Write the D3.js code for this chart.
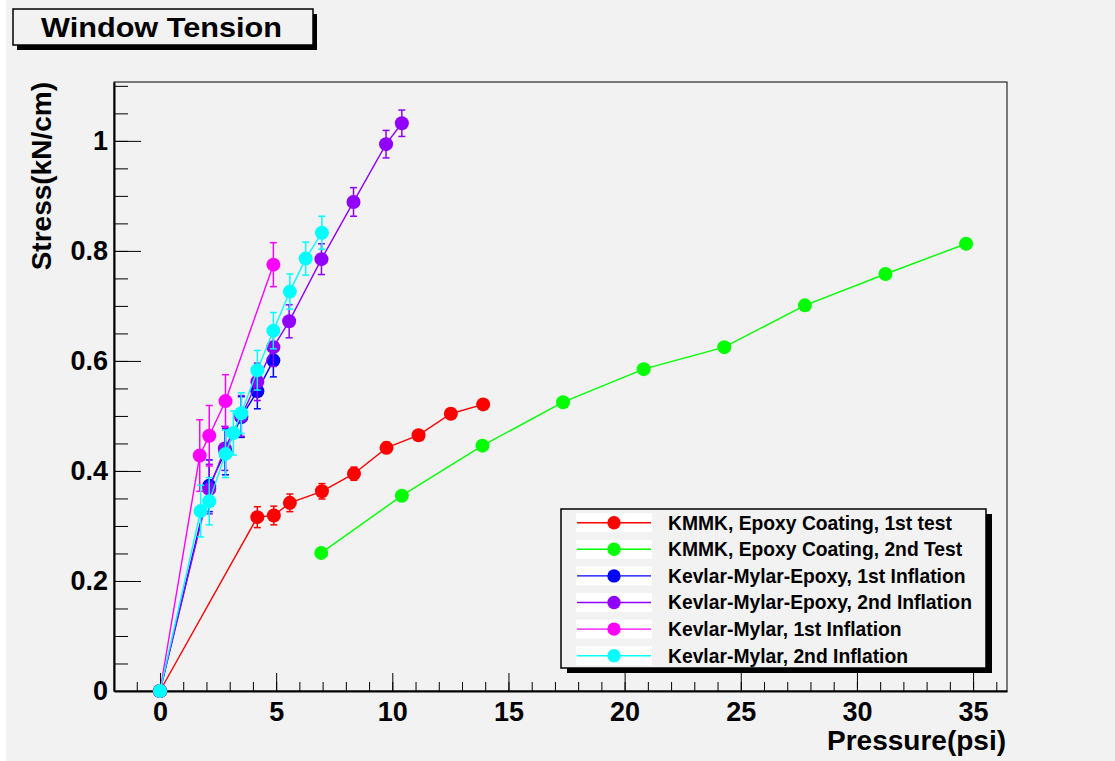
<!DOCTYPE html>
<html>
<head>
<meta charset="utf-8">
<script src="https://cdn.jsdelivr.net/npm/d3@7"></script>
<style>
  body { margin: 0; background: #ffffff; }
  text { font-family: "Liberation Sans", Arial, Helvetica, sans-serif; font-weight: bold; }
</style>
</head>
<body>
<svg id="chart"></svg>
<script>
// Data
const seriesNames = [
  "KMMK, Epoxy Coating, 1st test",
  "KMMK, Epoxy Coating, 2nd Test",
  "Kevlar-Mylar-Epoxy, 1st Inflation",
  "Kevlar-Mylar-Epoxy, 2nd Inflation",
  "Kevlar-Mylar, 1st Inflation",
  "Kevlar-Mylar, 2nd Inflation"
];
const seriesColors = ["#ff0000", "#00ff00", "#0000ff", "#9100ff", "#ff00ff", "#00ffff"];

const kmmk1X = [0, 4.19, 4.90, 5.59, 6.97, 8.35, 9.75, 11.13, 12.52, 13.91];
const kmmk1Y = [0, 0.316, 0.319, 0.342, 0.363, 0.395, 0.442, 0.465, 0.504, 0.521];
const kmmk1Err = [0, 0.019, 0.017, 0.016, 0.014, 0.012, 0.01, 0.009, 0.008, 0.008];

const kmmk2X = [6.94, 10.41, 13.88, 17.35, 20.82, 24.29, 27.76, 31.23, 34.70];
const kmmk2Y = [0.251, 0.355, 0.446, 0.525, 0.585, 0.625, 0.701, 0.758, 0.813];
const kmmk2Err = [0, 0, 0, 0, 0, 0, 0, 0, 0];

const kmeX1 = [0, 2.12, 2.82, 3.50, 4.19, 4.88];
const kmeY1 = [0, 0.373, 0.435, 0.498, 0.545, 0.601];
const kmeErr1 = [0, 0.047, 0.042, 0.037, 0.032, 0.03];

const kmeX2 = [0, 2.12, 2.79, 3.50, 4.19, 4.88, 5.56, 6.95, 8.33, 9.73, 10.41];
const kmeY2 = [0, 0.367, 0.441, 0.50, 0.562, 0.625, 0.672, 0.785, 0.889, 0.994, 1.032];
const kmeErr2 = [0, 0.045, 0.04, 0.037, 0.034, 0.035, 0.03, 0.028, 0.026, 0.025, 0.024];

const kmX1 = [0, 1.71, 2.12, 2.82, 4.88];
const kmY1 = [0, 0.428, 0.464, 0.527, 0.775];
const kmErr1 = [0, 0.065, 0.055, 0.048, 0.04];

const kmX2 = [0, 1.75, 2.12, 2.82, 3.16, 3.50, 4.19, 4.88, 5.59, 6.27, 6.97];
const kmY2 = [0, 0.327, 0.345, 0.431, 0.469, 0.505, 0.583, 0.655, 0.726, 0.786, 0.833];
const kmErr2 = [0, 0.047, 0.043, 0.043, 0.04, 0.037, 0.036, 0.033, 0.032, 0.03, 0.03];

const xTicks = [0, 5, 10, 15, 20, 25, 30, 35];
const yTicks = [0, 0.2, 0.4, 0.6, 0.8, 1];

// Dimensions
const svg_width = 1115;
const svg_height = 761;
const frame = { left: 114, right: 1007, top: 82, bottom: 691 };

const svg = d3.select("#chart")
  .attr("width", svg_width)
  .attr("height", svg_height);

// Background (ROOT grey canvas)
svg.append("rect").attr("width", svg_width).attr("height", svg_height).attr("fill", "#ffffff");
svg.append("rect").attr("x", 6).attr("width", svg_width - 6).attr("height", svg_height).attr("fill", "#f2f2f2");

// Scales
const xScale = d3.scaleLinear().domain([-1.98, 36.46]).range([frame.left, frame.right]);
const yScale = d3.scaleLinear().domain([0, 1.107]).range([frame.bottom, frame.top]);

// Frame
svg.append("rect")
  .attr("x", frame.left).attr("y", frame.top)
  .attr("width", frame.right - frame.left).attr("height", frame.bottom - frame.top)
  .attr("fill", "none").attr("stroke", "#000").attr("stroke-width", 1);

// x axis: minor ticks, then major ticks with labels
const xMinor = d3.range(-1, 37, 1);
svg.append("g")
  .attr("transform", `translate(0, ${frame.bottom})`)
  .call(d3.axisBottom(xScale).tickValues(xMinor).tickSizeInner(-9).tickSizeOuter(0).tickFormat(""))
  .call(g => g.select(".domain").remove());
svg.append("g")
  .attr("transform", `translate(0, ${frame.bottom})`)
  .call(d3.axisBottom(xScale).tickValues(xTicks).tickSizeInner(-18).tickSizeOuter(0).tickPadding(11).tickFormat(d3.format("d")))
  .call(g => g.select(".domain").attr("stroke-width", 2))
  .call(g => g.selectAll("text").attr("font-size", 27).attr("fill", "#000"));

// y axis
const yMinor = d3.range(0, 1.11, 0.05);
svg.append("g")
  .attr("transform", `translate(${frame.left}, 0)`)
  .call(d3.axisLeft(yScale).tickValues(yMinor).tickSizeInner(-14).tickSizeOuter(0).tickFormat(""))
  .call(g => g.select(".domain").remove());
svg.append("g")
  .attr("transform", `translate(${frame.left}, 0)`)
  .call(d3.axisLeft(yScale).tickValues(yTicks).tickSizeInner(-27).tickSizeOuter(0).tickPadding(6).tickFormat(d => d3.format("~g")(d)))
  .call(g => g.select(".domain").attr("stroke-width", 2))
  .call(g => g.selectAll("text").attr("font-size", 27).attr("fill", "#000"));

// Axis titles
svg.append("text")
  .attr("x", 1006).attr("y", 750)
  .attr("text-anchor", "end").attr("font-size", 28)
  .text("Pressure(psi)");
svg.append("text")
  .attr("transform", `translate(51, ${frame.top}) rotate(-90)`)
  .attr("text-anchor", "end").attr("font-size", 28)
  .text("Stress(kN/cm)");

// Series
const series = [
  { x: kmmk1X, y: kmmk1Y, e: kmmk1Err },
  { x: kmmk2X, y: kmmk2Y, e: kmmk2Err },
  { x: kmeX1, y: kmeY1, e: kmeErr1 },
  { x: kmeX2, y: kmeY2, e: kmeErr2 },
  { x: kmX1, y: kmY1, e: kmErr1 },
  { x: kmX2, y: kmY2, e: kmErr2 }
].map((s, i) => ({
  name: seriesNames[i],
  color: seriesColors[i],
  points: s.x.map((xv, j) => ({ x: xv, y: s.y[j], e: s.e[j] }))
}));

const line = d3.line().x(d => xScale(d.x)).y(d => yScale(d.y));
const plot = svg.append("g");

series.forEach(s => {
  const g = plot.append("g");
  g.append("path")
    .datum(s.points)
    .attr("d", line)
    .attr("fill", "none")
    .attr("stroke", s.color)
    .attr("stroke-width", 1.4);

  const errs = s.points.filter(d => d.e > 0);
  // vertical error bars
  g.selectAll(".ebar").data(errs).enter().append("line")
    .attr("x1", d => xScale(d.x)).attr("x2", d => xScale(d.x))
    .attr("y1", d => yScale(d.y - d.e)).attr("y2", d => yScale(d.y + d.e))
    .attr("stroke", s.color).attr("stroke-width", 1.5);
  // caps
  [-1, 1].forEach(sign => {
    g.selectAll(".cap" + sign).data(errs).enter().append("line")
      .attr("x1", d => xScale(d.x) - 3.5).attr("x2", d => xScale(d.x) + 3.5)
      .attr("y1", d => yScale(d.y + sign * d.e)).attr("y2", d => yScale(d.y + sign * d.e))
      .attr("stroke", s.color).attr("stroke-width", 1.5);
  });

  g.selectAll("circle").data(s.points).enter().append("circle")
    .attr("cx", d => xScale(d.x))
    .attr("cy", d => yScale(d.y))
    .attr("r", 7)
    .attr("fill", s.color);
});

// Legend
const legend = { x: 561, y: 509, w: 425, h: 159 };
svg.append("rect")
  .attr("x", legend.x + 6).attr("y", legend.y + 5)
  .attr("width", legend.w).attr("height", legend.h).attr("fill", "#000");
svg.append("rect")
  .attr("x", legend.x).attr("y", legend.y)
  .attr("width", legend.w).attr("height", legend.h)
  .attr("fill", "#f2f2f2").attr("stroke", "#000").attr("stroke-width", 1.5);

const rowY = i => 522.7 + i * 26.6;
series.forEach((s, i) => {
  const cy = rowY(i);
  svg.append("rect").attr("x", 576).attr("y", cy - 9.5).attr("width", 76).attr("height", 19).attr("fill", "#fff");
  svg.append("line").attr("x1", 577).attr("x2", 651).attr("y1", cy).attr("y2", cy)
    .attr("stroke", s.color).attr("stroke-width", 1.4);
  svg.append("circle").attr("cx", 614).attr("cy", cy).attr("r", 6.7).attr("fill", s.color);
  svg.append("text").attr("x", 668).attr("y", cy).attr("dy", "0.36em")
    .attr("font-size", 19.3).text(s.name);
});

// Title box
svg.append("rect").attr("x", 17).attr("y", 14).attr("width", 300).attr("height", 36).attr("fill", "#000");
svg.append("rect").attr("x", 13).attr("y", 9).attr("width", 300).attr("height", 36)
  .attr("fill", "#f2f2f2").attr("stroke", "#000").attr("stroke-width", 1.5);
svg.append("text").attr("x", 41).attr("y", 37)
  .attr("font-size", 28.5)
  .attr("textLength", 241).attr("lengthAdjust", "spacingAndGlyphs")
  .text("Window Tension");
</script>
</body>
</html>
